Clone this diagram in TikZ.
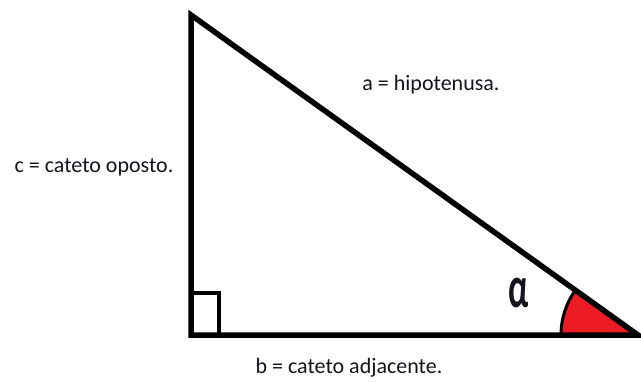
\documentclass[tikz,border=0pt]{standalone}
\usepackage{fontspec}
\setmainfont{Carlito}
\usetikzlibrary{calc}
\definecolor{paintred}{RGB}{237,28,36}
\definecolor{txt}{RGB}{20,20,30}
\begin{document}
\begin{tikzpicture}[x=1pt,y=1pt,
  side/.style={line width=5.5pt,line cap=round,line join=miter},
  lbl/.style={font=\fontsize{22}{24}\selectfont,text=txt,inner sep=0pt}]
\useasboundingbox (0,0) rectangle (641,381);
\coordinate (A) at (191,366);
\coordinate (C) at (191,46);
\coordinate (B) at (638,46);
% angle fill
\fill[paintred] (B) -- ++(180:77) arc[start angle=180,end angle=144.4,radius=77] -- cycle;
\draw[line width=3pt] ($(B)+(180:77)$) arc[start angle=180,end angle=144.4,radius=77];
% right angle box
\draw[line width=4pt] (C) ++(0,42) -- ++(28,0) -- ++(0,-42);
% triangle
\draw[side] (A) -- (C) -- (B) -- cycle;
% labels
\node[lbl] (a) at (431,296) {a = hipotenusa.};
\node[lbl] (c) at (94,214) {c = cateto oposto.};
\node[lbl] (b) at (349,13) {b = cateto adjacente.};
\node[font=\fontsize{44}{44}\selectfont\bfseries,text=txt,inner sep=0pt] (alpha) at (519,88) {\scalebox{0.78}[1.35]{α}};
\end{tikzpicture}
\end{document}
